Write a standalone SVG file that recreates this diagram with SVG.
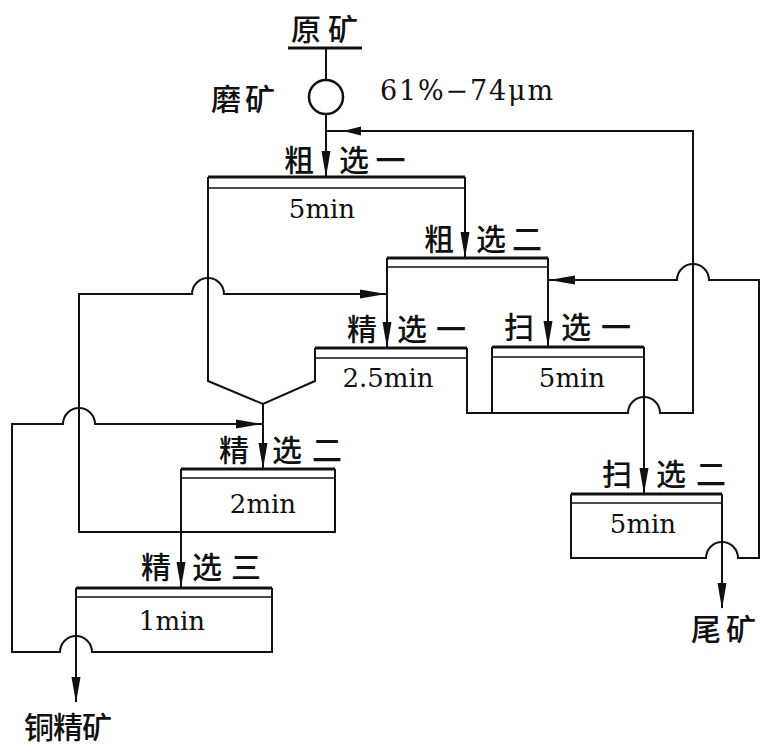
<svg xmlns="http://www.w3.org/2000/svg" width="771" height="753" viewBox="0 0 771 753">
<style>
.ln{fill:none;stroke:#111;stroke-width:2;stroke-linejoin:miter}
.bar{fill:none;stroke:#111;stroke-width:3.2}
.thin{fill:none;stroke:#111;stroke-width:1.4}
.cj{font-family:"Noto Sans CJK SC","Noto Sans CJK TC",sans-serif;font-size:30px;font-weight:500;fill:#111}
.sf{font-family:"DejaVu Serif","Liberation Serif",serif;font-size:26px;fill:#111;text-anchor:middle}
.ah{fill:#111}
</style>
<defs>
<path id="ah" d="M0,0 L-26,-4.5 L-26,4.5 Z"/>
<path id="ahs" d="M0,0 L-18,-4.5 L-18,4.5 Z"/>
</defs>
<rect width="771" height="753" fill="#fff"/>

<g id="raw-ore">
<text class="cj" x="291" y="40" letter-spacing="7">原矿</text>
<path class="bar" d="M288,48 H362" stroke-width="2.6"/>
</g>

<g id="grinding">
<circle cx="326" cy="97" r="17" fill="none" stroke="#111" stroke-width="2.5"/>
<text class="cj" x="211" y="110" letter-spacing="4">磨矿</text>
<text x="380" y="100" font-family="DejaVu Serif, Liberation Serif, serif" font-size="27" fill="#111" textLength="173" lengthAdjust="spacing">61%−74μm</text>
</g>

<g id="rougher1">
<path class="bar" d="M208,177 H465"/>
<path class="thin" d="M208,188 H465"/>
<text class="cj" x="284" y="171">粗</text>
<text class="cj" x="339" y="171" letter-spacing="6.5">选一</text>
<text class="sf" x="322" y="218">5min</text>
</g>

<g id="rougher2">
<path class="bar" d="M387,258 H548"/>
<path class="thin" d="M387,267 H548"/>
<text class="cj" x="424" y="250">粗</text>
<text class="cj" x="476" y="250" letter-spacing="6">选二</text>
</g>

<g id="cleaner1">
<path class="bar" d="M315,348 H467"/>
<path class="thin" d="M315,358 H467"/>
<text class="cj" x="347" y="340">精</text>
<text class="cj" x="397" y="340" letter-spacing="9">选一</text>
<text class="sf" x="388" y="387">2.5min</text>
</g>

<g id="scavenger1">
<path class="bar" d="M492,347 H644"/>
<path class="thin" d="M492,357 H644"/>
<text class="cj" x="504" y="338">扫</text>
<text class="cj" x="561" y="338" letter-spacing="10">选一</text>
<text class="sf" x="572" y="387">5min</text>
</g>

<g id="cleaner2">
<path class="bar" d="M181,469 H335"/>
<path class="thin" d="M181,478 H335"/>
<text class="cj" x="219" y="461">精</text>
<text class="cj" x="272" y="461" letter-spacing="10">选二</text>
<text class="sf" x="263" y="513">2min</text>
</g>

<g id="scavenger2">
<path class="bar" d="M571,494 H722"/>
<path class="thin" d="M571,503 H722"/>
<text class="cj" x="602" y="485">扫</text>
<text class="cj" x="656" y="485" letter-spacing="10">选二</text>
<text class="sf" x="643" y="533">5min</text>
</g>

<g id="cleaner3">
<path class="bar" d="M76,588 H272"/>
<path class="thin" d="M76,597 H272"/>
<text class="cj" x="141" y="578">精</text>
<text class="cj" x="192" y="578" letter-spacing="9">选三</text>
<text class="sf" x="172" y="630">1min</text>
</g>

<g id="concentrate">
<text class="cj" x="24" y="738" letter-spacing="-1">铜精矿</text>
</g>

<g id="tailings">
<text class="cj" x="691" y="640" letter-spacing="5">尾矿</text>
</g>

<g id="connectors">
<path class="ln" d="M326,48 V80"/>
<path class="ln" d="M326,114 V177"/>
<use href="#ah" class="ah" transform="translate(326,177) rotate(90)"/>

<path class="ln" d="M467,348 V413 H628 A16,16 0 0 1 660,413 H693 V131 H326"/>
<use href="#ahs" class="ah" transform="translate(343,131) rotate(180)"/>
<path class="ln" d="M492,347 V413"/>

<path class="ln" d="M208,177 V381 L263,404 L315,381 V348"/>
<path class="ln" d="M263,404 V469"/>
<use href="#ah" class="ah" transform="translate(263,469) rotate(90)"/>

<path class="ln" d="M465,177 V258"/>
<use href="#ah" class="ah" transform="translate(465,258) rotate(90)"/>

<path class="ln" d="M387,258 V348"/>
<use href="#ah" class="ah" transform="translate(387,348) rotate(90)"/>
<path class="ln" d="M548,258 V347"/>
<use href="#ah" class="ah" transform="translate(548,347) rotate(90)"/>

<path class="ln" d="M335,469 V532 H79 V294 H192 A16,16 0 0 1 224,294 H387"/>
<use href="#ah" class="ah" transform="translate(386,294)"/>

<path class="ln" d="M181,469 V588"/>
<use href="#ah" class="ah" transform="translate(181,588) rotate(90)"/>

<path class="ln" d="M272,588 V652 H92 A16,16 0 0 0 60,652 H12 V424 H63 A16,16 0 0 1 95,424 H263"/>
<use href="#ah" class="ah" transform="translate(262,424)"/>

<path class="ln" d="M76,588 V702"/>
<use href="#ah" class="ah" transform="translate(76,703) rotate(90)"/>

<path class="ln" d="M644,347 V494"/>
<use href="#ah" class="ah" transform="translate(644,494) rotate(90)"/>

<path class="ln" d="M571,494 V558 H706 A16,16 0 0 1 738,558 H759 V280 H709 A16,16 0 0 0 677,280 H548"/>
<use href="#ah" class="ah" transform="translate(549,280) rotate(180)"/>

<path class="ln" d="M722,494 V608"/>
<use href="#ah" class="ah" transform="translate(722,609) rotate(90)"/>
</g>
</svg>
